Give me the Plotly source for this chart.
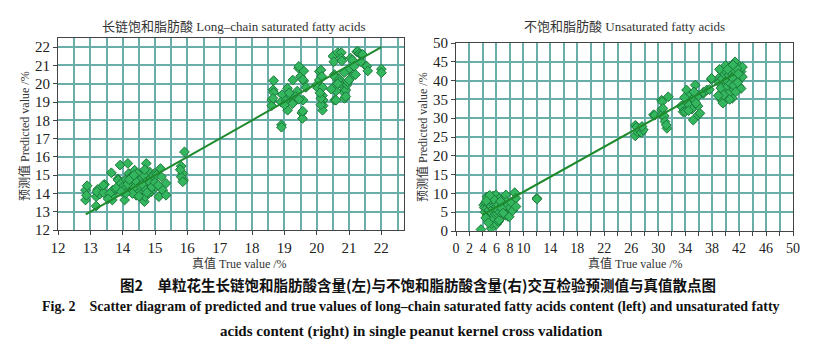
import plotly.graph_objects as go

# Long-chain saturated fatty acids (%): true vs. cross-validated prediction
sfa_true = [12.85, 12.85, 12.90, 12.88, 13.18, 13.18, 13.23, 13.29, 13.20, 13.41, 13.44, 13.40,
            13.65, 13.68, 13.70, 13.75, 13.69, 13.85, 13.86, 13.92, 13.95, 14.00, 14.06, 14.10,
            14.16, 14.19, 14.21, 14.26, 14.31, 14.37, 14.42, 14.44, 14.47, 14.52, 14.57, 14.62,
            14.67, 14.70, 14.73, 14.75, 14.78, 14.83, 14.88, 14.93, 14.98, 15.03, 15.12, 15.17,
            15.24, 15.34, 15.34, 15.81, 15.86, 15.88, 15.91, 15.81, 15.86, 15.78,
            14.05, 14.15, 14.25, 14.35, 14.40, 14.50, 14.55, 14.60, 14.65, 14.70, 14.72, 14.80,
            14.85, 14.90, 14.95, 15.00, 15.05, 15.10, 14.30, 14.10, 13.80, 13.60, 13.55, 14.20,
            14.45, 14.68, 14.75, 14.60, 14.50, 15.20, 13.95, 14.35,
            18.61, 18.61, 18.65, 18.67, 18.67, 18.65, 18.91, 18.91, 18.93, 18.90, 19.05, 19.10,
            19.10, 19.20, 19.26, 19.30, 19.40, 19.44, 19.50, 19.54, 19.56, 19.58, 19.60, 19.60,
            19.67, 19.45, 19.57, 19.57, 19.35, 19.15, 19.25, 19.45, 19.00,
            19.98, 20.03, 20.08, 20.08, 20.13, 20.16, 20.18, 20.18, 20.20, 20.20, 20.18, 20.13,
            20.13, 20.10, 20.50, 20.53, 20.55, 20.55, 20.58, 20.55, 20.60, 20.65, 20.70, 20.70,
            20.76, 20.76, 20.78, 20.80, 20.80, 20.86, 20.90, 20.90, 20.94, 20.96, 21.00, 21.05,
            21.10, 21.10, 21.16, 21.20, 21.24, 21.27, 21.32, 21.37, 21.37, 21.42, 21.53, 21.55,
            21.58, 22.00, 22.00, 20.60, 20.65, 20.45, 20.85, 21.00]
sfa_pred = [13.64, 14.18, 14.42, 13.90, 13.31, 13.82, 14.22, 13.96, 14.10, 14.04, 14.49, 14.45,
            15.13, 13.64, 13.90, 14.18, 14.18, 14.80, 14.73, 15.55, 14.55, 14.36, 13.64, 14.76,
            15.64, 15.09, 14.36, 14.09, 14.64, 15.27, 13.90, 14.36, 14.91, 14.55, 15.09, 14.18,
            13.55, 13.82, 15.64, 14.82, 14.45, 15.18, 14.09, 14.73, 15.09, 14.36, 13.82, 15.36,
            14.18, 14.55, 13.90, 15.49, 15.09, 14.73, 16.27, 14.91, 14.64, 15.30,
            14.20, 14.50, 14.90, 14.30, 14.70, 14.05, 14.40, 14.85, 15.00, 14.60, 14.20, 14.00,
            14.60, 14.35, 14.95, 14.60, 15.00, 14.45, 14.00, 14.00, 14.30, 14.00, 13.70, 14.75,
            15.10, 15.30, 14.05, 14.50, 13.85, 14.90, 14.10, 15.00,
            19.11, 18.80, 19.67, 20.17, 19.52, 19.20, 17.75, 17.62, 19.40, 19.00, 19.10, 18.55,
            19.75, 19.30, 20.20, 19.00, 19.60, 20.85, 20.40, 18.40, 18.10, 19.10, 20.70, 20.15,
            19.80, 20.95, 20.23, 18.50, 19.30, 19.50, 18.90, 19.15, 18.85,
            19.90, 19.77, 20.20, 20.67, 20.75, 20.40, 19.80, 19.35, 19.10, 18.80, 18.55, 18.85,
            19.20, 19.50, 21.50, 21.20, 20.50, 20.40, 19.90, 19.10, 19.10, 21.70, 20.25, 20.10,
            21.70, 21.40, 21.25, 19.90, 19.60, 19.20, 19.65, 19.30, 19.95, 20.10, 20.80, 21.40,
            20.40, 21.30, 20.95, 20.50, 21.75, 21.78, 21.65, 21.60, 21.20, 21.60, 20.95, 20.95,
            20.70, 20.80, 20.60, 19.60, 20.00, 19.70, 20.60, 20.20]

# Unsaturated fatty acids (%): true vs. cross-validated prediction
ufa_true = [3.7, 4.1, 4.2, 4.3, 4.4, 4.5, 4.6, 4.6, 4.7, 4.8, 4.9, 4.9, 5.0, 5.1, 5.1, 5.2, 5.2,
            5.3, 5.3, 5.4, 5.5, 5.5, 5.6, 5.7, 5.8, 5.9, 5.9, 6.0, 6.0, 6.1, 6.1, 6.2, 6.3, 6.4,
            6.4, 6.5, 7.0, 7.1, 7.2, 7.3, 7.4, 7.5, 7.5, 7.6, 7.7, 7.9, 8.0, 8.2, 8.4, 8.7, 8.9,
            8.9, 4.4, 4.8, 5.6, 6.8, 7.0, 5.0, 4.5, 6.6,
            12.0, 12.0,
            26.6, 26.6, 26.9, 27.3, 27.5, 27.8, 26.8, 27.6,
            29.3, 29.5, 30.5, 30.5, 30.5, 30.6, 30.7, 30.9, 31.0, 31.3, 31.5, 31.2, 33.4, 33.7,
            34.0, 34.2, 34.2, 34.2, 34.6, 34.8, 35.0, 35.2, 35.2, 35.5, 35.9, 35.9, 36.2, 35.6,
            34.5, 36.0, 33.9, 35.3,
            36.7, 36.7, 37.2, 37.6, 37.9, 37.9, 39.2, 39.4, 39.4, 39.6, 39.6, 39.6, 39.9, 40.1,
            40.6, 40.8, 41.0, 41.4, 41.6, 42.0, 42.0, 42.1, 42.3, 42.3, 42.5, 42.5,
            39.0, 39.3, 39.5, 39.8, 40.0, 40.2, 40.3, 40.4, 40.5, 40.7, 40.9, 41.0, 41.2, 41.3,
            41.5, 41.7, 41.8, 40.0, 39.7, 40.6, 41.9, 39.1, 40.3, 41.1, 38.9]
ufa_pred = [0.4, 6.9, 6.2, 5.0, 7.5, 6.0, 9.1, 4.2, 8.2, 5.3, 5.6, 7.0, 3.0, 3.9, 8.9, 0.7, 6.6,
            2.0, 4.8, 7.9, 5.9, 9.3, 3.4, 6.8, 4.5, 9.6, 8.0, 6.5, 1.8, 4.7, 7.2, 5.5, 2.5, 2.9,
            8.6, 5.0, 7.0, 5.9, 8.3, 4.2, 9.6, 7.8, 5.6, 6.6, 3.9, 3.8, 6.1, 7.6, 5.4, 10.2, 8.7,
            6.5, 3.5, 2.2, 8.4, 6.0, 4.8, 9.5, 8.0, 7.9,
            8.7, 8.5,
            28.1, 25.3, 26.4, 27.2, 26.2, 26.9, 27.6, 27.8,
            30.9, 30.8, 32.2, 34.8, 30.8, 34.4, 32.6, 30.6, 29.1, 27.3, 35.7, 28.2, 33.2, 31.7,
            31.7, 37.5, 34.4, 34.9, 33.5, 36.2, 32.4, 35.2, 29.5, 38.8, 33.2, 30.8, 31.3, 34.0,
            32.0, 36.0, 35.5, 37.0,
            36.6, 36.9, 37.5, 37.6, 40.3, 40.6, 41.0, 42.4, 34.8, 34.8, 34.0, 37.6, 39.3, 35.7,
            43.6, 37.9, 35.3, 45.0, 40.2, 41.0, 38.5, 43.7, 42.4, 37.9, 43.6, 41.0,
            39.5, 38.0, 40.5, 41.8, 42.5, 40.0, 38.5, 36.5, 41.5, 39.2, 42.0, 40.8, 38.7, 42.8,
            37.0, 43.2, 39.5, 44.0, 36.2, 35.0, 41.8, 43.0, 43.0, 44.2, 36.0]

# Regression lines: (slope, intercept) and the true-value span they cover
sfa_fit = (1.0, 0.0)
sfa_fit_span = (12.86, 22.0)
ufa_fit = (1.0, 0.4)
ufa_fit_span = (3.9, 41.3)

# Axis ticks
sfa_ticks = list(range(12, 23))
ufa_xticks = list(range(0, 51, 2))
ufa_xlabels = [str(v) if (v <= 10 or (v - 10) % 4 == 0) else "" for v in ufa_xticks]
ufa_yticks = list(range(0, 51, 5))

SERIF = "Liberation Serif, Times New Roman, Noto Sans CJK SC, serif"
GRID = "#6aaea9"
AXIS = "#444444"
MARK_FILL = "#33b65e"
MARK_EDGE = "#1c7a3b"
LINE = "#1f8a2c"

W, H = 820, 343


def px_x(p):
    return p / W


def px_y(p):
    return 1 - p / H


fig = go.Figure()

marker = dict(symbol="diamond", size=7.5, color=MARK_FILL,
              line=dict(color=MARK_EDGE, width=1))

fig.add_trace(go.Scatter(x=sfa_true, y=sfa_pred, mode="markers", marker=marker,
                         xaxis="x", yaxis="y", showlegend=False))
lx = list(sfa_fit_span)
fig.add_trace(go.Scatter(x=lx, y=[sfa_fit[0] * v + sfa_fit[1] for v in lx], mode="lines",
                         line=dict(color=LINE, width=2), xaxis="x", yaxis="y",
                         showlegend=False))

fig.add_trace(go.Scatter(x=ufa_true, y=ufa_pred, mode="markers", marker=marker,
                         xaxis="x2", yaxis="y2", showlegend=False))
rx = list(ufa_fit_span)
fig.add_trace(go.Scatter(x=rx, y=[ufa_fit[0] * v + ufa_fit[1] for v in rx], mode="lines",
                         line=dict(color=LINE, width=2), xaxis="x2", yaxis="y2",
                         showlegend=False))


def axis_style(size=15):
    return dict(showline=True, linecolor=AXIS, linewidth=1.2, mirror=True,
                ticks="outside", ticklen=4, tickcolor=AXIS, tickangle=0,
                automargin=False,
                showgrid=True, gridcolor=GRID, gridwidth=1.5, zeroline=False,
                tickfont=dict(family=SERIF, size=size, color="#222"))


fig.update_layout(
    width=W, height=H,
    margin=dict(l=0, r=0, t=0, b=0),
    paper_bgcolor="white", plot_bgcolor="white",
    xaxis=dict(domain=[px_x(58), px_x(404)], range=[12, 22.7], anchor="y",
               tickvals=sfa_ticks,
               minor=dict(tick0=12, dtick=0.5, showgrid=True, gridcolor=GRID,
                          gridwidth=1.5, ticks=""),
               **axis_style()),
    yaxis=dict(domain=[px_y(230), px_y(38)], range=[12, 22.5], anchor="x",
               tickvals=sfa_ticks, **axis_style()),
    xaxis2=dict(domain=[px_x(456), px_x(793)], range=[0, 50], anchor="y2",
                tickvals=ufa_xticks, ticktext=ufa_xlabels, **axis_style(14)),
    yaxis2=dict(domain=[px_y(231), px_y(43)], range=[0, 50], anchor="x2",
                tickvals=ufa_yticks, **axis_style()),
)

ann = []


def label(text, x, y, size, family=SERIF, angle=0, color="#333"):
    ann.append(dict(text=text, x=px_x(x), y=px_y(y), xref="paper", yref="paper",
                    xanchor="center", yanchor="middle", showarrow=False,
                    textangle=angle, font=dict(family=family, size=size, color=color)))


label("长链饱和脂肪酸 Long–chain saturated fatty acids", 234, 27, 13)
label("不饱和脂肪酸 Unsaturated fatty acids", 624, 27, 13)
label("预测值 Predicted value /%", 24, 136, 12, angle=-90)
label("预测值 Predicted value /%", 423, 137, 12, angle=-90)
label("真值 True value /%", 240, 263, 12)
label("真值 True value /%", 635, 263, 12)

SANS_CJK = "Noto Sans CJK SC, Noto Sans, sans-serif"
label("<b>图2　单粒花生长链饱和脂肪酸含量(左)与不饱和脂肪酸含量(右)交互检验预测值与真值散点图</b>",
      418, 284, 14.5, family=SANS_CJK, color="#111")
label("<b>Fig. 2　Scatter diagram of predicted and true values of long–chain saturated fatty acids "
      "content (left) and unsaturated fatty</b>", 411, 307, 14, color="#111")
label("<b>acids content (right) in single peanut kernel cross validation</b>",
      411, 331, 15, color="#111")

fig.update_layout(annotations=ann)

fig.write_html("out.html")
